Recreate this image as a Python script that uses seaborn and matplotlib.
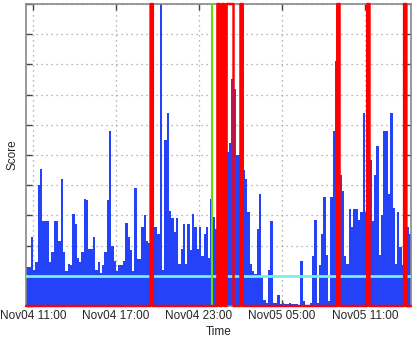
import numpy as np
import pandas as pd
import matplotlib
matplotlib.use("Agg")
import matplotlib.pyplot as plt
import matplotlib.dates as mdates
import seaborn as sns

#-------------------------------------------------------------------------------------
# Data (10 minute bins starting Nov04 10:30)
start = "2013-11-04 10:30"
step = "10min"

scores = [1.3, 1.3, 2.3, 1.2, 1.45, 4.0, 4.55, 2.8, 2.8, 2.8,
          1.45, 1.8, 2.8, 2.8, 2.15, 4.2, 1.8, 1.15, 1.4, 1.35,
          3.05, 2.7, 1.6, 1.45, 1.8, 3.55, 3.5, 1.9, 1.9, 2.3,
          1.2, 1.45, 1.1, 1.35, 1.8, 3.5, 5.8, 2.0, 1.5, 1.15,
          1.35, 1.35, 1.5, 2.75, 2.3, 1.85, 1.15, 3.9, 1.55, 1.55,
          2.6, 3.0, 2.15, 2.1, 2.0, 2.6, 2.6, 2.4, 10.0, 1.2,
          5.5, 6.4, 3.15, 2.9, 2.45, 2.9, 1.4, 1.9, 2.7, 1.4,
          2.7, 1.85, 3.05, 2.6, 1.9, 2.6, 1.65, 2.4, 2.6, 1.6,
          3.55, 2.95, 2.55, 3.5, 4.0, 4.5, 4.8, 5.1, 5.4, 7.5,
          7.2, 5.0, 5.0, 4.8, 4.5, 4.2, 3.1, 1.4, 1.15, 1.05,
          2.55, 3.7, 1.0, 0.2, 0.1, 1.2, 2.8, 0.1, 0.1, 0.35,
          0.05, 0.1, 0.05, 0.05, 0.1, 0.05, 0.07, 0.07, 0.03, 1.5,
          0.15, 0.02, 0.02, 0.1, 1.65, 2.85, 0.1, 1.35, 2.4, 3.6,
          1.7, 0.15, 3.6, 5.8, 8.1, 4.45, 4.35, 3.8, 1.65, 1.4,
          3.2, 2.6, 3.2, 3.2, 2.85, 3.1, 6.4, 3.1, 3.1, 4.85,
          2.8, 4.35, 5.3, 1.7, 3.0, 5.8, 5.8, 3.7, 6.4, 3.25,
          1.4, 3.1, 1.95, 1.35, 1.35, 2.6, 2.4]

# bins flagged as alarms (red)
alarm_bins = [54, 83, 85, 87, 88, 89, 93, 135, 148, 164]

marker_time = "2013-11-04 23:55"   # green marker
threshold = 1.0                    # cyan line
y_max = 10

times = pd.date_range(start, periods=len(scores) + 1, freq=step)
edges = mdates.date2num(times)
left = edges[:-1]
width = edges[1] - edges[0]

df = pd.DataFrame({"time": left + width / 2, "score": scores})

alarm = np.zeros(len(scores))
alarm[alarm_bins] = 1

#-------------------------------------------------------------------------------------
sns.set_style("ticks")
plt.rcParams["font.family"] = ["Liberation Sans", "DejaVu Sans"]

fig = plt.figure(figsize=(4.15, 3.45), dpi=100)
ax = fig.add_axes([26.1 / 415, 1 - 306 / 345, (411 - 26.1) / 415, 302 / 345])

# Scores as bars
sns.histplot(data=df, x="time", weights="score", bins=len(scores),
             binrange=(edges[0], edges[-1]), color="#2442f8", alpha=1,
             linewidth=0, ax=ax, zorder=2)

# Threshold
ax.axhline(threshold, color="#78f2e2", lw=2, zorder=3)

# Marker
ax.axvline(mdates.date2num(pd.Timestamp(marker_time)), color="#66dd00", lw=1.5, zorder=4)

# Alarms as a step line going from the bottom to the top of the axes
sns.lineplot(x=np.append(left, edges[-1]), y=np.append(alarm, alarm[-1]) * y_max,
             drawstyle="steps-post", color="#ff0000", linewidth=1.75, ax=ax,
             clip_on=False, snap=False, zorder=5)

# Axes
ax.set_xlim(edges[0], edges[-1])
ax.set_ylim(0, y_max)
ax.set_yticks(range(0, y_max + 1))
ax.xaxis.set_major_locator(mdates.HourLocator(byhour=[5, 11, 17, 23]))
ax.xaxis.set_major_formatter(mdates.DateFormatter("%b%d %H:%M"))

ax.grid(True, color="#a0a0a0", linestyle=(0, (1, 3)), linewidth=0.9)
ax.set_axisbelow(True)

ax.tick_params(direction="in", top=True, right=True, length=4, width=1,
               color="#444444", labelsize=8.5, pad=3, labelleft=False)
for s in ax.spines.values():
    s.set_color("#888888")
    s.set_linewidth(1.2)

ax.set_xlabel("Time", fontsize=8.5)
ax.set_ylabel("Score", fontsize=8.5)
ax.xaxis.set_label_coords(0.5, -0.066)
ax.yaxis.set_label_coords(-0.02, 0.5)

plt.savefig("out.png", dpi=100)
